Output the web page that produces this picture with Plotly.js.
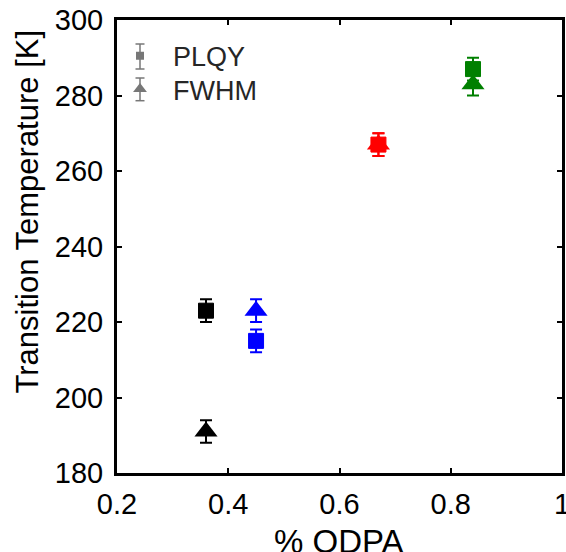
<!DOCTYPE html>
<html>
<head>
<meta charset="utf-8">
<script src="https://cdn.plot.ly/plotly-3.0.1.min.js"></script>
<style>html,body{margin:0;padding:0;background:#fff;overflow:hidden;}#chart{width:566px;height:552px;}</style>
</head>
<body>
<div id="chart"></div>
<script>
// Data
const odpa = [0.36, 0.45, 0.67, 0.84];
const plqyTemp = [223, 215, 267, 287];
const plqyErr = [3, 3, 3, 3];
const fwhmTemp = [191, 223, 267, 283];
const fwhmErr = [3, 3, 3, 3];
const colors = ['#000000', '#0000ff', '#ff0000', '#008000'];
const seriesNames = ['PLQY', 'FWHM'];
const xTicks = [0.2, 0.4, 0.6, 0.8, 1];
const xTickText = ['0.2', '0.4', '0.6', '0.8', '1'];
const yTicks = [180, 200, 220, 240, 260, 280, 300];
const xTitle = '% ODPA';
const yTitle = 'Transition Temperature [K]';

const traces = [];
// triangles first (FWHM), squares on top (PLQY)
odpa.forEach((x, i) => {
  traces.push({
    type: 'scatter', mode: 'markers', x: [x], y: [fwhmTemp[i]], showlegend: false,
    marker: {symbol: 'triangle-up', size: 20, color: colors[i], line: {width: 0}},
    error_y: {type: 'data', array: [fwhmErr[i]], visible: true, color: colors[i], thickness: 2, width: 6}
  });
});
odpa.forEach((x, i) => {
  traces.push({
    type: 'scatter', mode: 'markers', x: [x], y: [plqyTemp[i]], showlegend: false,
    marker: {symbol: 'square', size: 15, color: colors[i], line: {width: 1, color: colors[i]}},
    error_y: {type: 'data', array: [plqyErr[i]], visible: true, color: colors[i], thickness: 2, width: 6}
  });
});
// legend-only entries (each in its own legend box for exact row placement)
const legendGray = '#777777';
traces.push({type: 'scatter', mode: 'markers', x: [null], y: [null], name: seriesNames[0], legend: 'legend',
  marker: {symbol: 'square', size: 8, color: legendGray}});
traces.push({type: 'scatter', mode: 'markers', x: [null], y: [null], name: seriesNames[1], legend: 'legend2',
  marker: {symbol: 'triangle-up', size: 12, color: legendGray}});

// plot-area geometry helpers (pixels -> paper fractions)
const W = 445, H = 453, L = 117, T = 20;
const px = v => (v - L) / W, py = v => (T + H - v) / H;

// small error-bar glyphs behind the legend symbols
const glyphs = [[44, 69], [78, 100.7]];
const shapes = [];
glyphs.forEach(([a, b]) => {
  shapes.push({type: 'line', xref: 'paper', yref: 'paper', x0: px(140), x1: px(140), y0: py(a), y1: py(b), line: {color: legendGray, width: 1.5}});
  shapes.push({type: 'line', xref: 'paper', yref: 'paper', x0: px(135.5), x1: px(144.5), y0: py(a), y1: py(a), line: {color: legendGray, width: 1.5}});
  shapes.push({type: 'line', xref: 'paper', yref: 'paper', x0: px(135.5), x1: px(144.5), y0: py(b), y1: py(b), line: {color: legendGray, width: 1.5}});
});

const font = 'Liberation Sans, Arial, Helvetica, sans-serif';
const legendCommon = {xanchor: 'left', yanchor: 'top', bgcolor: 'rgba(0,0,0,0)', borderwidth: 0,
  font: {family: font, size: 27, color: '#262626'}, itemwidth: 56};
const layout = {
  width: 566, height: 552,
  margin: {l: 117, r: 4, t: 20, b: 79},
  paper_bgcolor: '#ffffff', plot_bgcolor: '#ffffff',
  font: {family: font, size: 29, color: '#000000'},
  showlegend: true,
  shapes: shapes,
  legend: Object.assign({x: px(107), y: py(31.7)}, legendCommon),
  legend2: Object.assign({x: px(107), y: py(65)}, legendCommon),
  annotations: [{
    text: yTitle, textangle: -90, xref: 'paper', yref: 'paper',
    x: px(27), y: py(211.5), xanchor: 'center', yanchor: 'middle', showarrow: false,
    font: {family: font, size: 31, color: '#000'}
  }, {
    text: xTitle, xref: 'paper', yref: 'paper',
    x: px(339), y: py(541), xanchor: 'center', yanchor: 'middle', showarrow: false,
    font: {family: font, size: 33, color: '#000'}
  }],
  xaxis: {
    range: [0.2, 1], tickvals: xTicks, ticktext: xTickText,
    showline: true, linewidth: 3, linecolor: '#000', mirror: 'ticks',
    ticks: 'inside', ticklen: 5, tickwidth: 2, tickcolor: '#000',
    showgrid: false, zeroline: false, ticklabeloverflow: 'allow', ticklabelstandoff: 3,
    tickfont: {family: font, size: 29, color: '#000'}
  },
  yaxis: {
    range: [180, 300], tickvals: yTicks,
    showline: true, linewidth: 3, linecolor: '#000', mirror: 'ticks',
    ticks: 'inside', ticklen: 5, tickwidth: 2, tickcolor: '#000',
    showgrid: false, zeroline: false, ticklabeloverflow: 'allow', ticklabelstandoff: 5,
    tickfont: {family: font, size: 29, color: '#000'}
  }
};
Plotly.newPlot('chart', traces, layout, {displayModeBar: false, staticPlot: true});
</script>
</body>
</html>
